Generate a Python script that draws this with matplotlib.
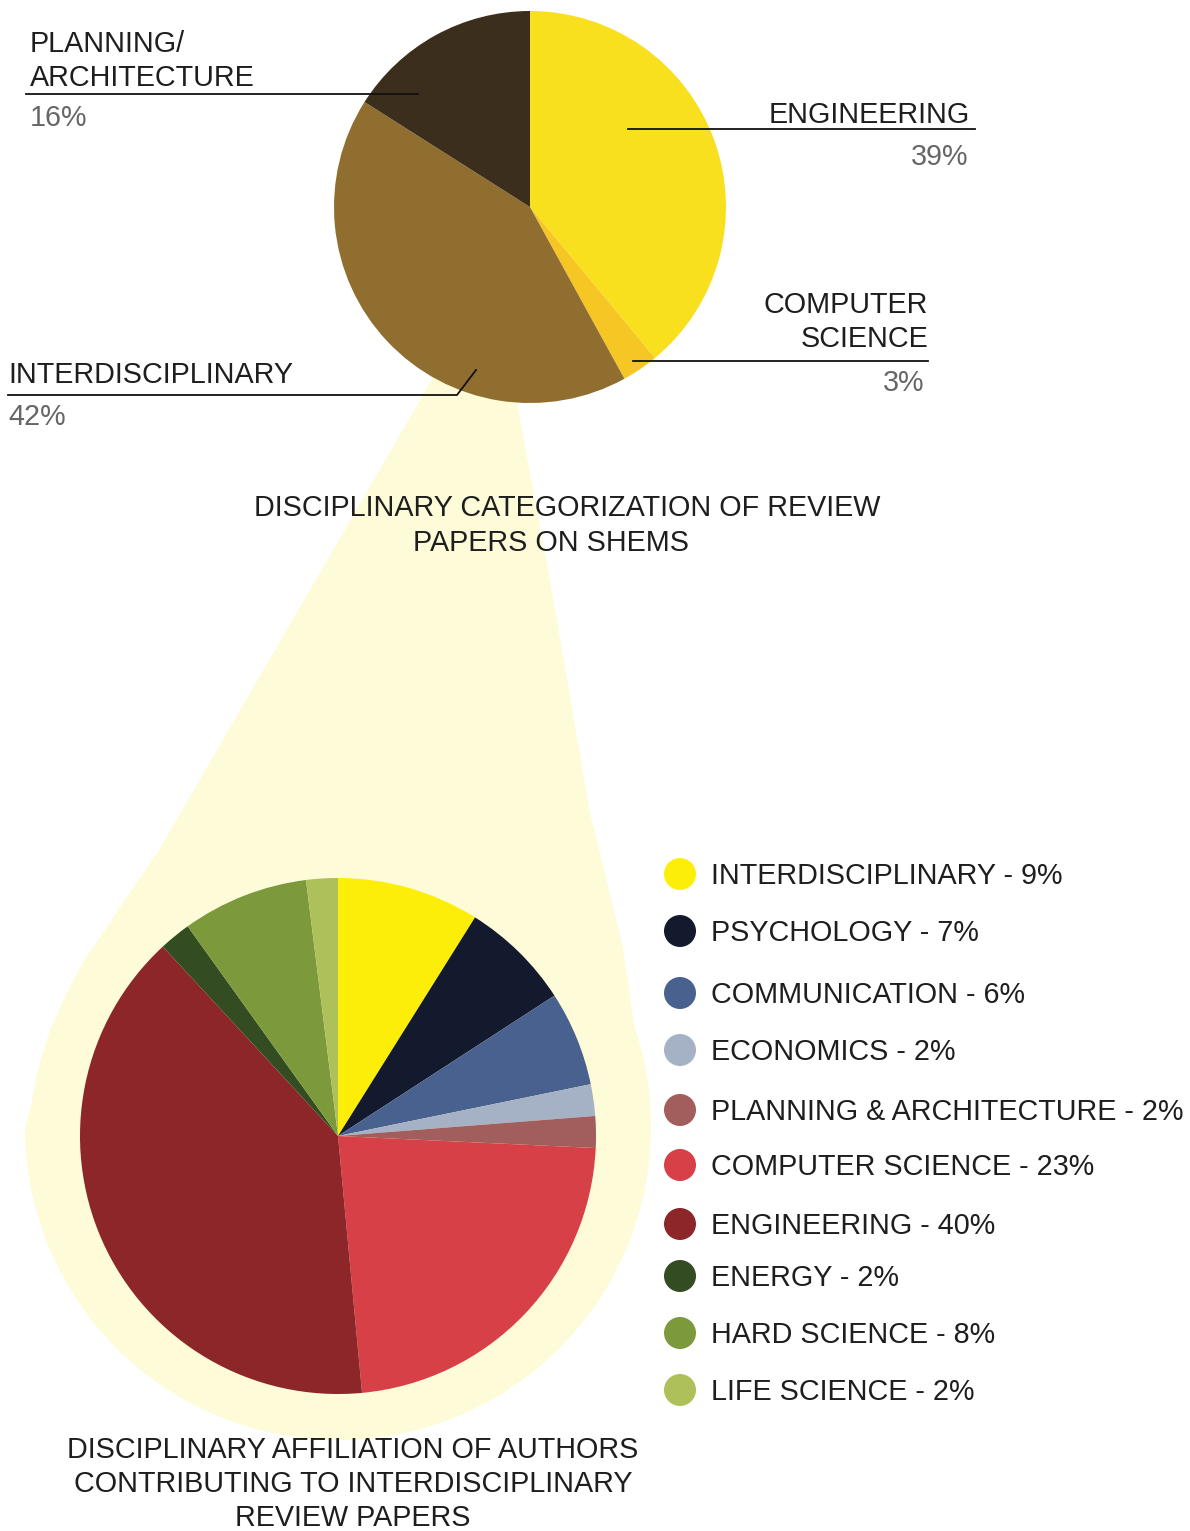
import numpy as np
import matplotlib
matplotlib.use("Agg")
import matplotlib.pyplot as plt
from matplotlib.patches import Polygon, Circle

plt.rcParams["font.family"] = ["Liberation Sans", "DejaVu Sans"]

# ---- data -------------------------------------------------------------
top_labels = ["ENGINEERING", "COMPUTER\nSCIENCE", "INTERDISCIPLINARY", "PLANNING/\nARCHITECTURE"]
top_values = [39, 3, 42, 16]
top_colors = ["#F9E01F", "#F6C625", "#8F6E2F", "#3B2E1C"]

sub_labels = ["INTERDISCIPLINARY", "PSYCHOLOGY", "COMMUNICATION", "ECONOMICS",
              "PLANNING & ARCHITECTURE", "COMPUTER SCIENCE", "ENGINEERING",
              "ENERGY", "HARD SCIENCE", "LIFE SCIENCE"]
sub_values = [9, 7, 6, 2, 2, 23, 40, 2, 8, 2]
sub_colors = ["#FDEE0A", "#131A2E", "#48618F", "#A5B2C6", "#A25E5D",
              "#D84048", "#8C2629", "#344C22", "#7C9A3B", "#AEC05A"]

title_top = ["DISCIPLINARY CATEGORIZATION OF REVIEW", "PAPERS ON SHEMS"]
title_bottom = ["DISCIPLINARY AFFILIATION OF AUTHORS",
                "CONTRIBUTING TO INTERDISCIPLINARY", "REVIEW PAPERS"]

# ---- canvas in pixel units (y measured from the top) ------------------
W, H = 1190, 1531
fig = plt.figure(figsize=(W / 100, H / 100), dpi=100)
ax = fig.add_axes([0, 0, 1, 1])


def Y(y):
    return H - y


TXT = "#1E1E1E"
PCT = "#666666"
FS = 20.7

# ---- zoom highlight joining the two pies ------------------------------
hl_color = "#FEFBD8"
left_edge = [(440, 365), (430, 383), (159, 850), (140, 878), (118, 910),
             (98, 940), (83, 962), (66, 995), (50, 1030), (38, 1070), (30, 1110)]
cx, cy, R = 338, 1127, 313
t = np.linspace(np.pi, -0.33, 200)
arc = list(zip(cx + R * np.cos(t), cy + R * np.sin(t)))
right_edge = [(623, 947), (590, 813), (550, 580), (517, 403), (510, 365)]
outline = [(x, Y(y)) for x, y in left_edge + arc + right_edge]
ax.add_patch(Polygon(outline, closed=True, facecolor=hl_color, edgecolor="none", zorder=0))

# ---- pies -------------------------------------------------------------
ax.pie(top_values, colors=top_colors, startangle=90, counterclock=False,
       radius=196, center=(530, Y(207)), wedgeprops=dict(linewidth=0),
       normalize=True)
ax.pie(sub_values, colors=sub_colors, startangle=90, counterclock=False,
       radius=258, center=(338, Y(1136)), wedgeprops=dict(linewidth=0),
       normalize=True)

# ---- top pie annotations ----------------------------------------------
lw = 1.3


def label(x, y, s, ha="left", color=TXT):
    ax.text(x, Y(y) - 10, s, ha=ha, va="baseline", fontsize=FS, color=color, zorder=5)


# planning / architecture
label(30, 42, "PLANNING/")
label(30, 76, "ARCHITECTURE")
ax.plot([26, 418], [Y(94), Y(94)], color="#111111", lw=lw, zorder=4)
label(30, 116, f"{top_values[3]}%", color=PCT)

# engineering
label(970, 113, "ENGINEERING", ha="right")
ax.plot([628, 975], [Y(129), Y(129)], color="#111111", lw=lw, zorder=4)
label(968, 155, f"{top_values[0]}%", ha="right", color=PCT)

# computer science
label(928, 303, "COMPUTER", ha="right")
label(928, 337, "SCIENCE", ha="right")
ax.plot([633, 928], [Y(361), Y(361)], color="#111111", lw=lw, zorder=4)
label(924, 381, f"{top_values[1]}%", ha="right", color=PCT)

# interdisciplinary
label(8, 373, "INTERDISCIPLINARY")
ax.plot([8, 457, 476], [Y(395), Y(395), Y(370)], color="#111111", lw=lw, zorder=4)
label(8, 415, f"{top_values[2]}%", color=PCT)

# ---- titles -----------------------------------------------------------
label(567, 506, title_top[0], ha="center")
label(551, 541, title_top[1], ha="center")
for i, line in enumerate(title_bottom):
    label(353, 1448 + 34 * i, line, ha="center")

# ---- legend for the lower pie -----------------------------------------
leg_y = [874, 931, 993, 1050, 1110, 1165, 1224, 1276, 1333, 1390]
for yy, name, val, col in zip(leg_y, sub_labels, sub_values, sub_colors):
    ax.add_patch(Circle((680, Y(yy)), 16, facecolor=col, edgecolor="none", zorder=3))
    label(711, yy, f"{name} - {val}%")

ax.set_xlim(0, W)
ax.set_ylim(0, H)
ax.set_aspect("equal")
ax.axis("off")

fig.savefig("out.png", dpi=100, facecolor="white")
